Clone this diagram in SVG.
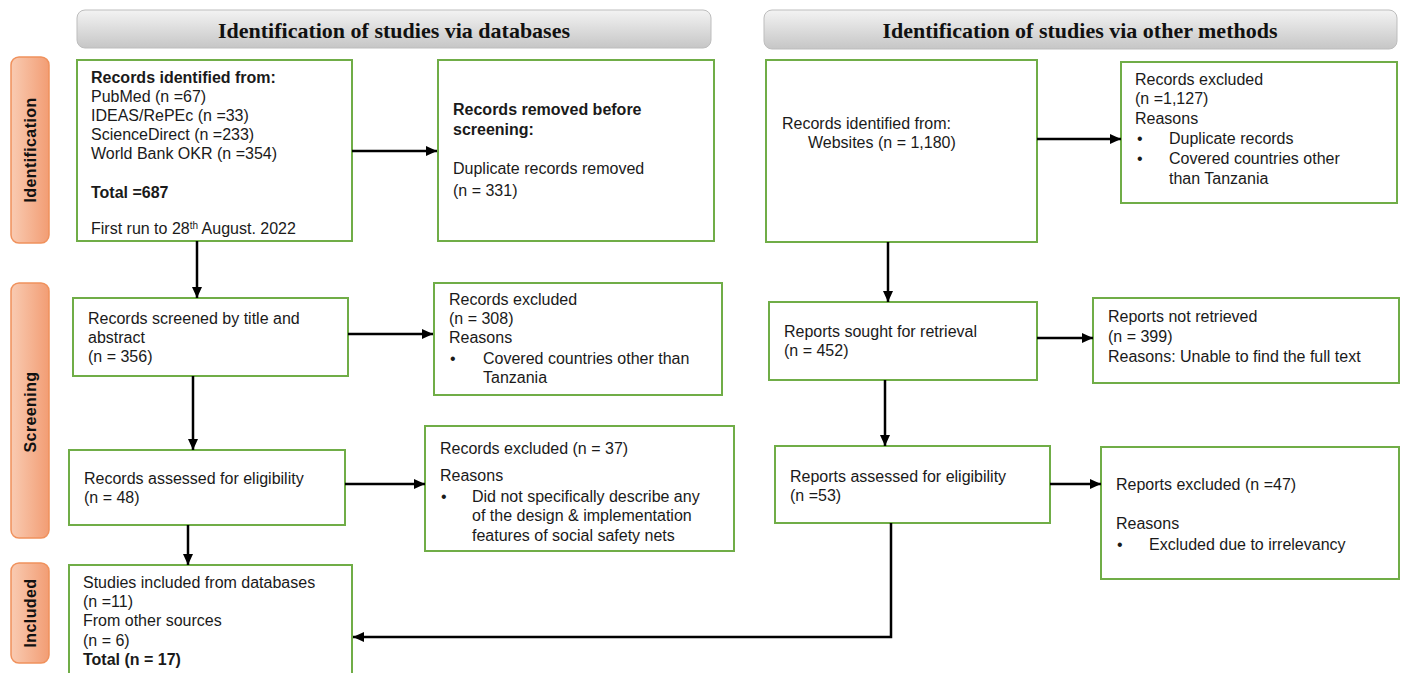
<svg xmlns="http://www.w3.org/2000/svg" width="1406" height="673" viewBox="0 0 1406 673">
<defs>
<linearGradient id="hdr" x1="0" y1="0" x2="0" y2="1">
<stop offset="0" stop-color="#f3f3f3"/><stop offset="1" stop-color="#c6c6c6"/>
</linearGradient>
<linearGradient id="side" x1="0" y1="0" x2="1" y2="0">
<stop offset="0" stop-color="#f9cbb2"/><stop offset="1" stop-color="#f29d74"/>
</linearGradient>
<marker id="ah" markerUnits="userSpaceOnUse" markerWidth="12" markerHeight="12" viewBox="0 0 12 12" refX="11" refY="6" orient="auto">
<path d="M0,1 L11,6 L0,11 Z" fill="#000"/>
</marker>
<style>
.hdr{fill:url(#hdr);stroke:#bdbdbd;stroke-width:1}
.ht{font-family:"Liberation Serif",serif;font-weight:bold;font-size:22px;fill:#111;text-anchor:middle}
.side{fill:url(#side);stroke:#f0915c;stroke-width:1.5}
.st{font-family:"Liberation Sans",Arial,sans-serif;font-weight:bold;font-size:16px;letter-spacing:0.4px;fill:#111;text-anchor:middle}
.box{fill:#fff;stroke:#70ad47;stroke-width:2}
.t{font-family:"Liberation Sans",Arial,sans-serif;font-size:16px;fill:#1a1a1a}
.b{font-weight:bold}
.con{fill:none;stroke:#000;stroke-width:2.5;marker-end:url(#ah)}
</style>
</defs>

<g id="header-databases">
<rect class="hdr" x="77" y="10" width="634" height="38" rx="8"/>
<text class="ht" x="394" y="38">Identification of studies via databases</text>
</g>
<g id="header-other">
<rect class="hdr" x="764" y="10" width="633" height="39" rx="8"/>
<text class="ht" x="1080" y="38">Identification of studies via other methods</text>
</g>

<g id="label-identification">
<rect class="side" x="11" y="57" width="38" height="186" rx="8"/>
<text class="st" transform="translate(36,150) rotate(-90)">Identification</text>
</g>
<g id="label-screening">
<rect class="side" x="11" y="283" width="38" height="255" rx="8"/>
<text class="st" transform="translate(36,412) rotate(-90)">Screening</text>
</g>
<g id="label-included">
<rect class="side" x="11" y="563" width="38" height="100" rx="8"/>
<text class="st" transform="translate(36,613) rotate(-90)">Included</text>
</g>

<g id="box-records-identified">
<rect class="box" x="77" y="60" width="275" height="181"/>
<text class="t b" x="91" y="83">Records identified from:</text>
<text class="t" x="91" y="102">PubMed (n =67)</text>
<text class="t" x="91" y="121">IDEAS/RePEc (n =33)</text>
<text class="t" x="91" y="140">ScienceDirect (n =233)</text>
<text class="t" x="91" y="159">World Bank OKR (n =354)</text>
<text class="t b" x="91" y="198">Total =687</text>
<text class="t" x="91" y="234">First run to 28<tspan font-size="10" dy="-5">th</tspan><tspan dy="5"> August. 2022</tspan></text>
</g>

<g id="box-removed">
<rect class="box" x="438" y="60" width="276" height="181"/>
<text class="t b" x="453" y="115">Records removed before</text>
<text class="t b" x="453" y="135">screening:</text>
<text class="t" x="453" y="174">Duplicate records removed</text>
<text class="t" x="453" y="196">(n = 331)</text>
</g>

<g id="box-screened">
<rect class="box" x="73" y="298" width="275" height="78"/>
<text class="t" x="88" y="324">Records screened by title and</text>
<text class="t" x="88" y="343">abstract</text>
<text class="t" x="88" y="362">(n = 356)</text>
</g>

<g id="box-excluded-308">
<rect class="box" x="434" y="283" width="288" height="112"/>
<text class="t" x="449" y="305">Records excluded</text>
<text class="t" x="449" y="324">(n = 308)</text>
<text class="t" x="449" y="343">Reasons</text>
<text class="t" x="450" y="364">•</text>
<text class="t" x="483" y="364">Covered countries other than</text>
<text class="t" x="483" y="383">Tanzania</text>
</g>

<g id="box-assessed">
<rect class="box" x="69" y="450" width="276" height="75"/>
<text class="t" x="84" y="484">Records assessed for eligibility</text>
<text class="t" x="84" y="503">(n = 48)</text>
</g>

<g id="box-excluded-37">
<rect class="box" x="425" y="426" width="309" height="125"/>
<text class="t" x="440" y="454">Records excluded (n = 37)</text>
<text class="t" x="440" y="481">Reasons</text>
<text class="t" x="441" y="502">•</text>
<text class="t" x="472" y="502">Did not specifically describe any</text>
<text class="t" x="472" y="521">of the design &amp; implementation</text>
<text class="t" x="472" y="541">features of social safety nets</text>
</g>

<g id="box-included">
<rect class="box" x="69" y="565" width="283" height="130"/>
<text class="t" x="83" y="588">Studies included from databases</text>
<text class="t" x="83" y="607">(n =11)</text>
<text class="t" x="83" y="626">From other sources</text>
<text class="t" x="83" y="646">(n = 6)</text>
<text class="t b" x="83" y="665">Total (n = 17)</text>
</g>

<g id="box-websites">
<rect class="box" x="766" y="60" width="271" height="182"/>
<text class="t" x="782" y="129">Records identified from:</text>
<text class="t" x="808" y="148">Websites (n = 1,180)</text>
</g>

<g id="box-excluded-1127">
<rect class="box" x="1121" y="62" width="276" height="141"/>
<text class="t" x="1135" y="85">Records excluded</text>
<text class="t" x="1135" y="104">(n =1,127)</text>
<text class="t" x="1135" y="124">Reasons</text>
<text class="t" x="1137" y="144">•</text>
<text class="t" x="1169" y="144">Duplicate records</text>
<text class="t" x="1137" y="164">•</text>
<text class="t" x="1169" y="164">Covered countries other</text>
<text class="t" x="1169" y="184">than Tanzania</text>
</g>

<g id="box-sought">
<rect class="box" x="769" y="302" width="268" height="78"/>
<text class="t" x="784" y="337">Reports sought for retrieval</text>
<text class="t" x="784" y="356">(n = 452)</text>
</g>

<g id="box-not-retrieved">
<rect class="box" x="1093" y="298" width="306" height="85"/>
<text class="t" x="1108" y="322">Reports not retrieved</text>
<text class="t" x="1108" y="342">(n = 399)</text>
<text class="t" x="1108" y="362">Reasons: Unable to find the full text</text>
</g>

<g id="box-reports-assessed">
<rect class="box" x="775" y="446" width="275" height="77"/>
<text class="t" x="790" y="482">Reports assessed for eligibility</text>
<text class="t" x="790" y="501">(n =53)</text>
</g>

<g id="box-reports-excluded">
<rect class="box" x="1101" y="447" width="298" height="132"/>
<text class="t" x="1116" y="490">Reports excluded (n =47)</text>
<text class="t" x="1116" y="529">Reasons</text>
<text class="t" x="1117" y="550">•</text>
<text class="t" x="1149" y="550">Excluded due to irrelevancy</text>
</g>

<g id="connectors">
<path class="con" d="M352,151 L437,151"/>
<path class="con" d="M197,241 L197,298"/>
<path class="con" d="M348,334 L433,334"/>
<path class="con" d="M193,376 L193,450"/>
<path class="con" d="M345,484 L425,484"/>
<path class="con" d="M188,525 L188,565"/>
<path class="con" d="M1037,139 L1121,139"/>
<path class="con" d="M888,242 L888,302"/>
<path class="con" d="M1037,338 L1093,338"/>
<path class="con" d="M885,380 L885,446"/>
<path class="con" d="M1050,484 L1101,484"/>
<path class="con" d="M891,523 L891,637 L353,637"/>
</g>
</svg>
